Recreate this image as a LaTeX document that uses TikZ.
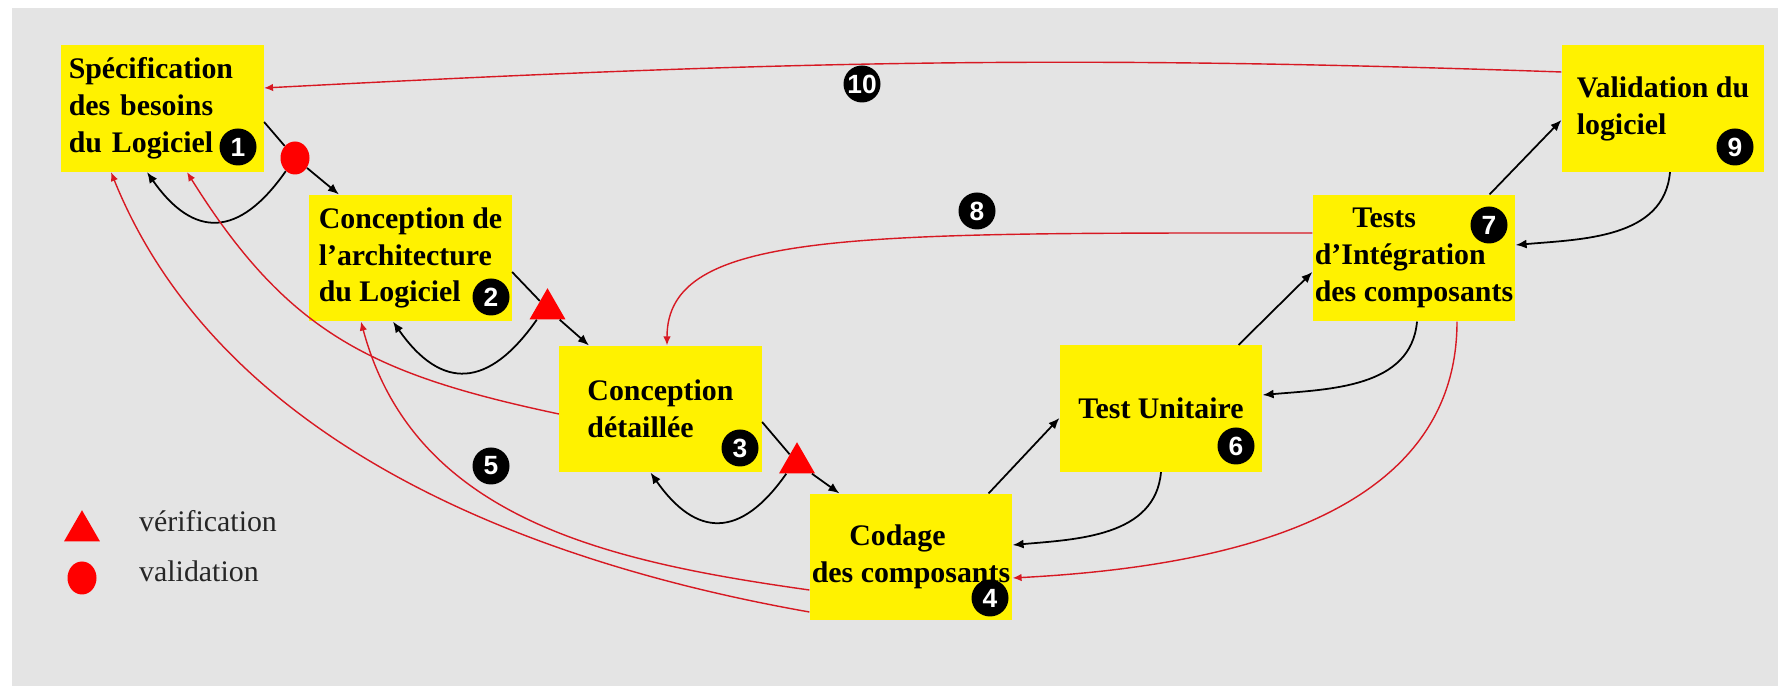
\documentclass[tikz,border=0pt]{standalone}
\usepackage{fontspec}
\setmainfont{Liberation Serif}
\newfontfamily\badgefont{Liberation Sans}
\usetikzlibrary{shapes.geometric, arrows.meta}

\definecolor{bggray}{RGB}{228,228,228}
\definecolor{linkred}{RGB}{215,25,35}

\begin{document}
\begin{tikzpicture}[
        box/.style={rectangle, fill=yellow, minimum width=4.05cm, minimum height=2.53cm, inner sep=0pt, align=left, font=\fontsize{17}{21}\selectfont\bfseries},
        num/.style={circle, fill=black, text=white, minimum size=0.74cm, inner sep=0pt, font=\badgefont\fontsize{15}{15}\selectfont\bfseries},
        verif/.style={regular polygon, regular polygon sides=3, fill=red, minimum size=0.83cm, inner sep=0pt},
        valmark/.style={ellipse, fill=red, minimum width=0.58cm, minimum height=0.66cm, inner sep=0pt},
        flowarrow/.style={-{Latex[length=2.2mm, width=1.8mm]}, line width=1pt},
        redarrow/.style={-{Latex[length=1.8mm, width=1.5mm]}, draw=linkred, line width=0.8pt},
        legendtext/.style={anchor=west, text=black!85, font=\fontsize{17}{21}\selectfont}
    ]
        \useasboundingbox (0, 0) rectangle (35.56, 13.72);
        % background
        \fill[white] (0, 0) rectangle (35.56, 13.72);
        \fill[bggray] (0.24, 0) rectangle (35.56, 13.56);

        % descending branch
        \node[box, text width=3.75cm] (spec) at (3.25, 11.55) {Spécification\\des besoins\\du Logiciel};
        \node[box] (archi) at (8.21, 8.56) {Conception de\\l’architecture\\du Logiciel};
        \node[box] (detail) at (13.21, 5.54) {Conception\\détaillée};
        \node[box] (codage) at (18.22, 2.58) {\hspace*{0.75cm}Codage\\des composants};

        % ascending branch
        \node[box] (unit) at (23.22, 5.55) {Test Unitaire};
        \node[box] (integ) at (28.28, 8.56) {\hspace*{0.75cm}Tests\\d’Intégration\\des composants};
        \node[box] (valid) at (33.26, 11.55) {Validation du\\logiciel};

        % validation and verification marks
        \node[valmark] (val1) at (5.90, 10.56) {};
        \node[verif] (ver1) at (10.95, 7.54) {};
        \node[verif] (ver2) at (15.94, 4.46) {};

        % arrows down
        \draw[flowarrow] ([yshift=-0.27cm]spec.east) -- (val1) -- ([xshift=0.6cm]archi.north west);
        \draw[flowarrow] ([yshift=-0.28cm]archi.east) -- (ver1) -- ([xshift=0.6cm]detail.north west);
        \draw[flowarrow] ([yshift=-0.26cm]detail.east) -- (ver2) -- ([xshift=0.6cm]codage.north west);

        % loops back
        \draw[flowarrow] (val1.-125) to[out=-125, in=-55, looseness=1.5] ([xshift=-0.31cm]spec.south);
        \draw[flowarrow] (ver1.-135) to[out=-125, in=-55, looseness=1.5] ([xshift=-0.35cm]archi.south);
        \draw[flowarrow] (ver2.-135) to[out=-125, in=-55, looseness=1.5] ([xshift=-0.2cm]detail.south);

        % arrows up
        \draw[flowarrow] ([xshift=-0.48cm]codage.north east) -- ([yshift=-0.19cm]unit.west);
        \draw[flowarrow] ([xshift=-0.48cm]unit.north east) -- ([yshift=-0.28cm]integ.west);
        \draw[flowarrow] ([xshift=-0.52cm]integ.north east) -- ([yshift=-0.23cm]valid.west);

        % returns on the right side
        \draw[flowarrow] (unit.south) to[out=-95, in=5] ([yshift=0.24cm]codage.east);
        \draw[flowarrow] ([xshift=0.06cm]integ.south) to[out=-95, in=5] ([yshift=0.27cm]unit.east);
        \draw[flowarrow] ([xshift=0.14cm]valid.south) to[out=-95, in=5] ([yshift=0.26cm]integ.east);

        % red feedback arrows
        \draw[redarrow] ([yshift=0.73cm]valid.west) to[out=178, in=3] ([yshift=0.41cm]spec.east);
        \draw[redarrow] ([yshift=0.5cm]integ.west) to[out=180, in=90, out distance=9.2cm, in distance=2.3cm] ([xshift=0.13cm]detail.north);
        \draw[redarrow] ([xshift=0.86cm]integ.south) to[out=-90, in=3] ([yshift=-0.42cm]codage.east);
        \draw[redarrow] ([yshift=-0.1cm]detail.west) to[out=168, in=-58, looseness=1.1] ([xshift=0.49cm]spec.south);
        \draw[redarrow] ([yshift=-0.66cm]codage.west) to[out=172, in=-75] ([xshift=-0.99cm]archi.south);
        \draw[redarrow] ([yshift=-1.1cm]codage.west) to[out=170, in=-68, looseness=0.9] ([xshift=-1.03cm]spec.south);

        % numbers
        \node[num] (num1) at (4.76, 10.78) {1};
        \node[num] (num2) at (9.82, 7.78) {2};
        \node[num] (num3) at (14.80, 4.76) {3};
        \node[num] (num4) at (19.80, 1.76) {4};
        \node[num] (num5) at (9.82, 4.40) {5};
        \node[num] (num6) at (24.72, 4.80) {6};
        \node[num] (num7) at (29.78, 9.22) {7};
        \node[num] (num8) at (19.54, 9.50) {8};
        \node[num] (num9) at (34.70, 10.78) {9};
        \node[num] (num10) at (17.24, 12.04) {10};

        % legend
        \node[verif] (legver) at (1.64, 3.10) {};
        \node[legendtext] (legvertext) at (2.66, 3.29) {vérification};
        \node[valmark] (legval) at (1.64, 2.16) {};
        \node[legendtext] (legvaltext) at (2.66, 2.29) {validation};

    \end{tikzpicture}
\end{document}
